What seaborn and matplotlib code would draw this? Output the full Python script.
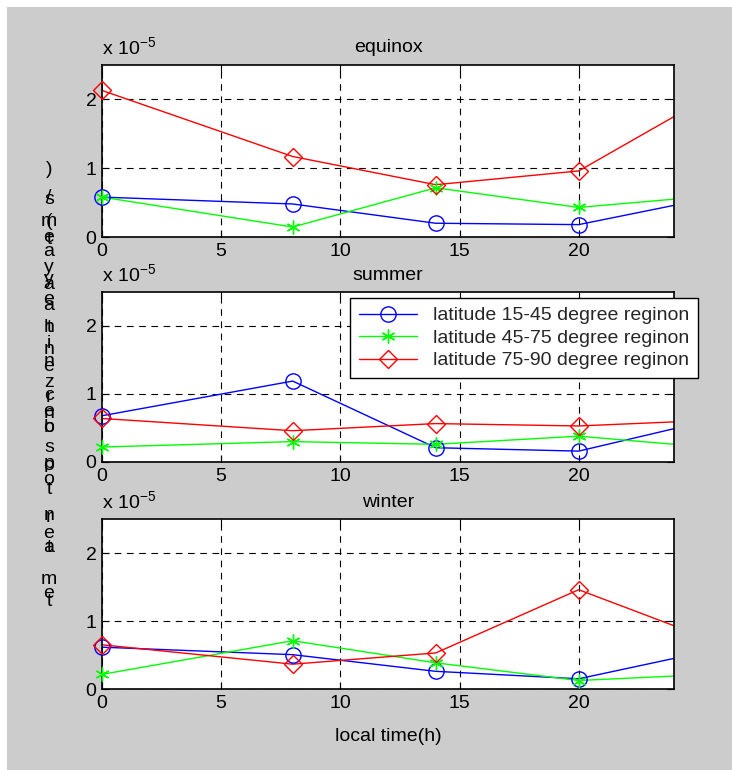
import numpy as np
import pandas as pd
import seaborn as sns
import matplotlib
matplotlib.use("Agg")
import matplotlib.pyplot as plt
from matplotlib.patches import Rectangle

# ---------------- data (values in units of 1e-5) ----------------
local_time = [0, 8, 14, 20, 24]
series_labels = ["latitude 15-45 degree reginon",
                 "latitude 45-75 degree reginon",
                 "latitude 75-90 degree reginon"]
panel_titles = ["equinox", "summer", "winter"]

equinox_15_45 = [0.58, 0.48, 0.20, 0.18, 0.46]
equinox_45_75 = [0.58, 0.145, 0.715, 0.43, 0.55]
equinox_75_90 = [2.13, 1.17, 0.76, 0.96, 1.75]

summer_15_45 = [0.68, 1.19, 0.21, 0.16, 0.49]
summer_45_75 = [0.22, 0.30, 0.26, 0.38, 0.26]
summer_75_90 = [0.64, 0.46, 0.565, 0.53, 0.59]

winter_15_45 = [0.615, 0.505, 0.26, 0.15, 0.45]
winter_45_75 = [0.215, 0.71, 0.385, 0.125, 0.19]
winter_75_90 = [0.65, 0.365, 0.53, 1.46, 0.93]

x_ticks = [0, 5, 10, 15, 20]
y_ticks = [0, 1, 2]
x_label = "local time(h)"

# ---------------- style ----------------
sns.set_theme(style="white")
plt.rcParams["font.family"] = ["Liberation Sans", "DejaVu Sans"]
plt.rcParams["mathtext.fontset"] = "custom"
plt.rcParams["mathtext.rm"] = "Liberation Sans"
FS = 14

W, H = 732, 770
fig = plt.figure(figsize=(W / 100, H / 100), dpi=100, facecolor="white")
fig.patches.append(Rectangle((7 / W, -0.01), 1.02, 1.01 - 7 / H,
                             transform=fig.transFigure,
                             facecolor="#cccccc", edgecolor="none", zorder=-10))

colors = ["#0000ff", "#00ff00", "#ff0000"]
markers = ["o", (6, 2, 0), "D"]
msizes = [11, 10, 9]

panels = [
    (equinox_15_45, equinox_45_75, equinox_75_90),
    (summer_15_45, summer_45_75, summer_75_90),
    (winter_15_45, winter_45_75, winter_75_90),
]

left, right = 102, 674
tops = [65, 292, 519]
bottoms = [237, 462, 689]

axes = []
legend_handles = []
for i, (title, vals) in enumerate(zip(panel_titles, panels)):
    ax = fig.add_axes([left / W, 1 - bottoms[i] / H, (right - left) / W,
                       (bottoms[i] - tops[i]) / H])
    ax.set_facecolor("white")
    for j, v in enumerate(vals):
        df = pd.DataFrame({"t": local_time, "v": np.array(v) * 1e-5})
        # connecting line (clipped at the axes edge)
        sns.lineplot(data=df, x="t", y="v", ax=ax, color=colors[j],
                     linewidth=1.0, legend=False)
        # markers at the measured times (not clipped)
        sns.lineplot(data=df.iloc[:4], x="t", y="v", ax=ax, color=colors[j],
                     linestyle="none", marker=markers[j],
                     markersize=msizes[j], markerfacecolor="none",
                     markeredgecolor=colors[j], markeredgewidth=1.0,
                     legend=False, clip_on=False, zorder=3)
        if i == 0:
            legend_handles.append(plt.Line2D([], [], color=colors[j],
                                             linewidth=1.0, marker=markers[j],
                                             markersize=msizes[j],
                                             markerfacecolor="none",
                                             markeredgecolor=colors[j]))
    ax.set_xlim(0, 24)
    ax.set_ylim(0, 2.5e-5)
    ax.set_xticks(x_ticks)
    ax.set_xticklabels([str(t) for t in x_ticks], fontsize=FS)
    ax.set_yticks([t * 1e-5 for t in y_ticks])
    ax.set_yticklabels([str(t) for t in y_ticks], fontsize=FS)
    ax.tick_params(direction="in", length=5, width=0.8, color="black",
                   pad=4, labelcolor="black", bottom=True, left=True,
                   top=True, right=True)
    ax.grid(True, color="black", linestyle=(0, (6, 5)), linewidth=0.8)
    for s in ax.spines.values():
        s.set_color("black")
        s.set_linewidth(1.2)
    ax.set_xlabel("")
    ax.set_ylabel("")
    ax.set_title(title, fontsize=FS, color="black", pad=9)
    ax.text(0.0, 1.035, r"x 10$^{-5}$", transform=ax.transAxes, fontsize=FS,
            ha="left", va="bottom", color="black")
    axes.append(ax)

axes[2].set_xlabel(x_label, fontsize=FS, color="black", labelpad=12)

# legend
leg = fig.legend(legend_handles, series_labels, loc="upper left",
                 bbox_to_anchor=(350 / W, 1 - 298 / H), fontsize=14,
                 frameon=True, fancybox=False, shadow=False, framealpha=1,
                 edgecolor="black", handlelength=3.0, borderpad=0.45,
                 labelspacing=0.25, handletextpad=0.8, borderaxespad=0)
leg.get_frame().set_linewidth(1.0)

# garbled vertical y label as rendered in the reference (stacked glyphs)
ylabel_glyphs = [(")", 170), ("s", 200), ("/", 198), ("m", 222), ("(", 222),
                 ("e", 238), ("t", 240), ("a", 251), ("y", 267), ("y", 280),
                 ("a", 285), ("e", 300), ("a", 306), ("h", 327), ("t", 327),
                 ("i", 344), ("n", 349), ("n", 361), ("e", 366), ("z", 382),
                 ("c", 396), ("r", 398), ("e", 411), ("n", 414), ("o", 428),
                 ("b", 428), ("s", 447), ("p", 463), ("o", 465), ("o", 480),
                 ("t", 490), ("n", 515), ("r", 517), ("e", 533), ("a", 548),
                 ("t", 548), ("m", 580), ("e", 593), ("t", 602)]
for ch, yy in ylabel_glyphs:
    fig.text(49 / W, 1 - yy / H, ch, fontsize=FS, ha="center", va="center",
             color="black")

fig.savefig("out.png", dpi=100, facecolor=fig.get_facecolor())
